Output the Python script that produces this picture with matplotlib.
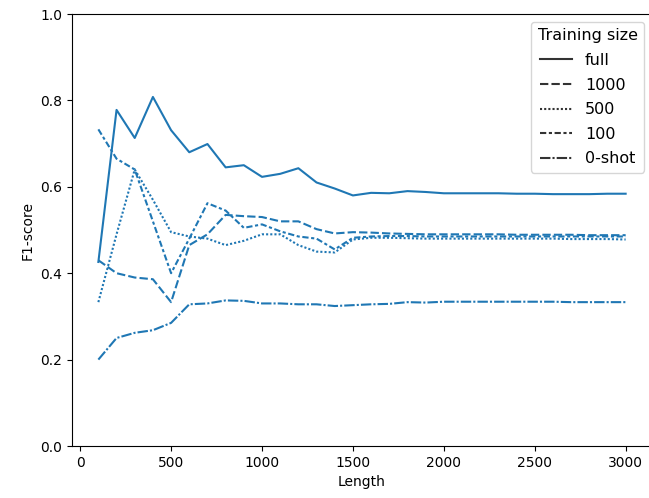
import numpy as np
import matplotlib.pyplot as plt

length = list(range(100, 3100, 100))

f1_full = [0.426, 0.778, 0.713, 0.808, 0.731, 0.680, 0.699, 0.645, 0.650, 0.623,
           0.630, 0.643, 0.610, 0.596, 0.580, 0.586, 0.585, 0.590, 0.588, 0.585,
           0.585, 0.585, 0.585, 0.584, 0.584, 0.583, 0.583, 0.583, 0.584, 0.584]
f1_1000 = [0.430, 0.400, 0.390, 0.386, 0.333, 0.465, 0.490, 0.535, 0.532, 0.530,
           0.520, 0.520, 0.502, 0.492, 0.495, 0.494, 0.492, 0.491, 0.490, 0.490,
           0.490, 0.490, 0.490, 0.489, 0.489, 0.489, 0.489, 0.488, 0.488, 0.488]
f1_500 = [0.333, 0.490, 0.640, 0.570, 0.495, 0.485, 0.480, 0.465, 0.475, 0.490,
          0.490, 0.465, 0.450, 0.448, 0.478, 0.482, 0.482, 0.481, 0.480, 0.480,
          0.480, 0.480, 0.480, 0.480, 0.480, 0.480, 0.479, 0.479, 0.479, 0.478]
f1_100 = [0.733, 0.665, 0.640, 0.520, 0.400, 0.480, 0.562, 0.545, 0.505, 0.513,
          0.497, 0.485, 0.480, 0.455, 0.482, 0.485, 0.486, 0.486, 0.485, 0.485,
          0.485, 0.485, 0.485, 0.485, 0.485, 0.485, 0.485, 0.485, 0.485, 0.485]
f1_zero = [0.200, 0.250, 0.262, 0.268, 0.285, 0.328, 0.330, 0.337, 0.336, 0.330,
           0.330, 0.328, 0.328, 0.324, 0.326, 0.328, 0.329, 0.333, 0.332, 0.334,
           0.334, 0.334, 0.334, 0.334, 0.334, 0.334, 0.333, 0.333, 0.333, 0.333]

labels = ["full", "1000", "500", "100", "0-shot"]
dashes = [(None, None), (4, 1.5), (1, 1), (3, 1.25, 1.5, 1.25), (5, 1, 1, 1)]
series = [f1_full, f1_1000, f1_500, f1_100, f1_zero]

fig = plt.figure(figsize=(6.49, 4.98), dpi=100)
ax = fig.add_axes([72 / 649, 52 / 498, 580 / 649, 432 / 498])

blue = "#1f77b4"
for vals, d in zip(series, dashes):
    line, = ax.plot(length, vals, color=blue, lw=1.5)
    if d[0] is not None:
        line.set_dashes(d)

handles = []
for lab, d in zip(labels, dashes):
    h, = ax.plot([], [], color="#333333", lw=1.5, label=lab)
    if d[0] is not None:
        h.set_dashes(d)
    handles.append(h)

ax.legend(handles=handles, title="Training size", loc="upper right",
          fontsize=11.5, title_fontsize=11.5, labelspacing=0.6)
ax.spines["right"].set_visible(False)
ax.set_ylim(0, 1.0)
ax.set_yticks(np.arange(0, 1.01, 0.2))
ax.set_xticks(range(0, 3001, 500))
ax.set_xlabel("Length")
ax.set_ylabel("F1-score")

fig.savefig("out.png", dpi=100)
